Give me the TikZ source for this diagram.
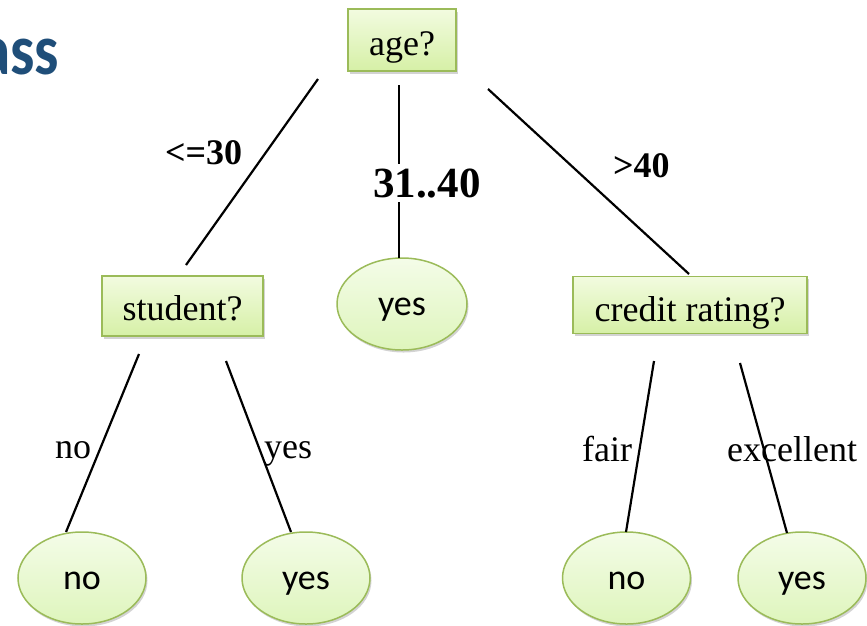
\documentclass[tikz,border=0pt]{standalone}
\usepackage{fontspec}
\setmainfont{Liberation Serif}
\newfontfamily\leaffont{Carlito}
\usetikzlibrary{shadows,shapes.geometric}

\definecolor{nodeborder}{RGB}{155,187,89}
\definecolor{boxtop}{RGB}{242,251,224}
\definecolor{boxbottom}{RGB}{214,240,166}
\definecolor{leaftop}{RGB}{244,252,232}
\definecolor{leafbottom}{RGB}{222,245,188}
\definecolor{titleblue}{RGB}{31,78,121}

\tikzset{
  testbox/.style={rectangle, draw=nodeborder, line width=1.5pt,
    top color=boxtop, bottom color=boxbottom, inner sep=0pt,
    drop shadow={opacity=0.35, shadow xshift=1.5pt, shadow yshift=-2.5pt},
    font=\fontsize{36}{40}\selectfont, text depth=0pt},
  leaf/.style={ellipse, draw=nodeborder, line width=1.5pt,
    top color=leaftop, bottom color=leafbottom, inner sep=0pt,
    minimum width=128pt, minimum height=92pt,
    drop shadow={opacity=0.35, shadow xshift=1.5pt, shadow yshift=-2.5pt},
    font=\leaffont\fontsize{36}{40}\selectfont, text height=23pt, text depth=0pt},
  branch/.style={draw=black, line width=2.2pt},
  edgelabel/.style={inner sep=0pt, anchor=base west, font=\fontsize{36}{40}\selectfont},
  rangelabel/.style={inner sep=0pt, anchor=base west, font=\bfseries\fontsize{36}{40}\selectfont},
}

\begin{document}
\begin{tikzpicture}[x=1pt, y=-1pt]
  \useasboundingbox (0,0) rectangle (867,625);

  % heading fragment
  \node[inner sep=0pt, anchor=base west, text=titleblue, xscale=0.85,
        font=\leaffont\bfseries\fontsize{72}{80}\selectfont] (heading) at (-20,74) {ass};

  % decision nodes
  \node[testbox, minimum width=108pt, minimum height=62pt, text height=30pt] (age) at (402,40) {age?};
  \node[testbox, minimum width=161pt, minimum height=60pt, text height=28pt] (student) at (182.5,306) {student?};
  \node[testbox, minimum width=234pt, minimum height=57pt, text height=33pt] (credit) at (690,305) {credit rating?};

  % leaves
  \node[leaf, minimum width=130pt] (midyes) at (402,304) {yes};
  \node[leaf] (studno) at (82,578) {no};
  \node[leaf] (studyes) at (306,578) {yes};
  \node[leaf] (credno) at (626.5,578) {no};
  \node[leaf] (credyes) at (802,578) {yes};

  % branch end points
  \coordinate (ageL) at (318,79);
  \coordinate (ageM) at (399,85);
  \coordinate (ageR) at (488,89);
  \coordinate (studTop) at (186,265);
  \coordinate (midTop) at (399,258);
  \coordinate (credTop) at (689,274);
  \coordinate (studL) at (139,354);
  \coordinate (studR) at (226,361);
  \coordinate (noTopA) at (66,532);
  \coordinate (yesTopA) at (291,532);
  \coordinate (credL) at (654,361);
  \coordinate (credR) at (740,363);
  \coordinate (noTopB) at (626,532);
  \coordinate (yesTopB) at (787,533);

  % branches
  \draw[branch] (ageL) -- (studTop);
  \draw[branch] (ageM) -- (midTop);
  \draw[branch] (ageR) -- (credTop);
  \draw[branch] (studL) -- (noTopA);
  \draw[branch] (studR) -- (yesTopA);
  \draw[branch] (credL) -- (noTopB);
  \draw[branch] (credR) -- (yesTopB);

  % branch labels
  \node[rangelabel] (lowage) at (165,164) {<=30};
  \node[rangelabel, font=\bfseries\fontsize{43}{48}\selectfont, fill=white, inner ysep=4pt] (midage) at (373,197) {31..40};
  \node[rangelabel] (highage) at (613,177) {>40};
  \node[edgelabel] (lblno) at (55,458) {no};
  \node[edgelabel] (lblyes) at (264,458) {yes};
  \node[edgelabel] (lblfair) at (582,461) {fair};
  \node[edgelabel] (lblexc) at (727,461) {excellent};
\end{tikzpicture}
\end{document}
